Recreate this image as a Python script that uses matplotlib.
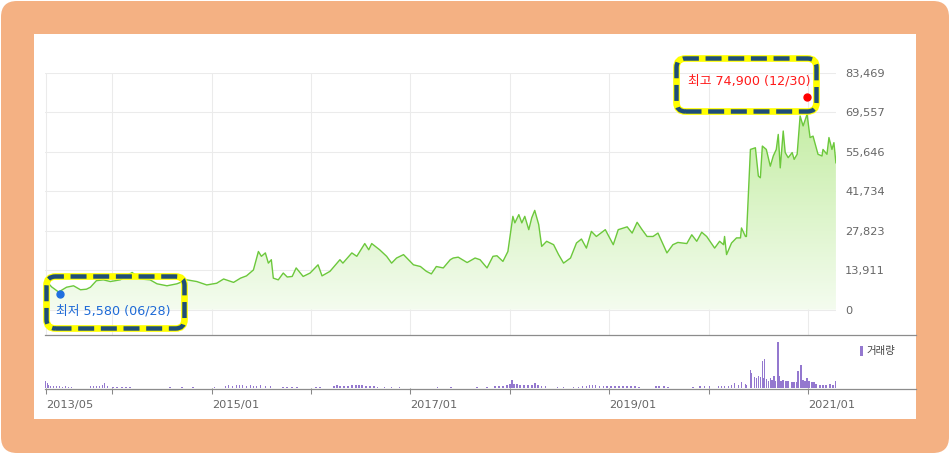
import matplotlib
matplotlib.use("Agg")
import matplotlib.pyplot as plt
import numpy as np
from matplotlib.patches import FancyBboxPatch, Rectangle
from matplotlib.lines import Line2D
from matplotlib.transforms import IdentityTransform
from matplotlib.colors import to_rgb

# ---------------- data ----------------
price_years = [2013.34, 2013.39, 2013.46, 2013.54, 2013.61, 2013.68, 2013.74, 2013.78, 2013.84, 2013.91,
               2013.98, 2014.08, 2014.20, 2014.28, 2014.38, 2014.45, 2014.55, 2014.65, 2014.75, 2014.85,
               2014.95, 2015.05, 2015.12, 2015.22, 2015.29, 2015.35, 2015.42, 2015.47, 2015.50, 2015.54,
               2015.57, 2015.60, 2015.62, 2015.67, 2015.72, 2015.76, 2015.81, 2015.85, 2015.92, 2015.99,
               2016.07, 2016.11, 2016.19, 2016.29, 2016.32, 2016.41, 2016.46, 2016.54, 2016.58, 2016.61,
               2016.69, 2016.76, 2016.81, 2016.86, 2016.93, 2016.98, 2017.03, 2017.10, 2017.16, 2017.21,
               2017.26, 2017.33, 2017.40, 2017.43, 2017.48, 2017.57, 2017.65, 2017.70, 2017.77, 2017.83,
               2017.87, 2017.93, 2017.98, 2018.03, 2018.05, 2018.09, 2018.12, 2018.15, 2018.19, 2018.22,
               2018.25, 2018.29, 2018.32, 2018.37, 2018.44, 2018.49, 2018.54, 2018.61, 2018.67, 2018.72,
               2018.77, 2018.82, 2018.87, 2018.96, 2019.04, 2019.09, 2019.18, 2019.23, 2019.28, 2019.33,
               2019.38, 2019.44, 2019.49, 2019.58, 2019.64, 2019.69, 2019.78, 2019.83, 2019.88, 2019.93,
               2019.98, 2020.06, 2020.11, 2020.15, 2020.16, 2020.18, 2020.23, 2020.28, 2020.32, 2020.33,
               2020.37, 2020.38, 2020.42, 2020.47, 2020.50, 2020.52, 2020.54, 2020.58, 2020.62, 2020.65,
               2020.68, 2020.70, 2020.72, 2020.75, 2020.77, 2020.80, 2020.84, 2020.86, 2020.89, 2020.92,
               2020.95, 2020.99, 2021.02, 2021.05, 2021.10, 2021.14, 2021.15, 2021.19, 2021.21, 2021.24,
               2021.26, 2021.28]
prices = [9900, 8000, 6200, 7900, 8400, 7000, 7200, 7900, 10200, 10500,
          9900, 10500, 13100, 10800, 10500, 9100, 8400, 9100, 10500, 9900,
          8700, 9300, 10800, 9600, 11100, 11900, 14000, 20500, 18800, 20000,
          16400, 17600, 11100, 10500, 12900, 11500, 11700, 14700, 11700, 12900,
          15800, 11900, 13500, 17600, 16400, 20000, 18800, 23300, 21100, 23300,
          21100, 18800, 16400, 18200, 19400, 17600, 15800, 15200, 13500, 12600,
          15200, 14700, 17600, 18200, 18500, 16600, 18200, 17600, 14700, 18800,
          19000, 17000, 20500, 32900, 30600, 33500, 30600, 32900, 28200, 32400,
          35000, 30000, 22300, 24100, 22900, 19400, 16400, 18200, 23500, 24900,
          21700, 27600, 25800, 28200, 22900, 28200, 29200, 27000, 30800, 28200,
          25800, 25800, 27000, 20000, 22900, 23700, 23300, 26400, 24100, 27300,
          25800, 21700, 24100, 22900, 25800, 19400, 23500, 25300, 25300, 28800,
          25800, 25800, 56500, 57100, 47100, 46500, 57700, 56500, 50600, 54200,
          56500, 61800, 50000, 63000, 55400, 53600, 55400, 53000, 54800, 68300,
          64800, 68900, 60700, 61200, 54800, 54200, 56500, 54800, 60700, 56500,
          58900, 51800]

vol_years = [2013.33, 2013.35, 2013.36, 2013.38, 2013.41, 2013.44, 2013.47, 2013.50, 2013.53, 2013.56,
             2013.59, 2013.78, 2013.81, 2013.84, 2013.87, 2013.90, 2013.92, 2013.95, 2014.01, 2014.05,
             2014.10, 2014.14, 2014.18, 2014.58, 2014.70, 2014.81, 2015.03, 2015.14, 2015.17, 2015.21,
             2015.25, 2015.28, 2015.31, 2015.35, 2015.39, 2015.42, 2015.45, 2015.49, 2015.54, 2015.59,
             2015.72, 2015.76, 2015.81, 2015.86, 2016.05, 2016.09, 2016.23, 2016.26, 2016.29, 2016.33,
             2016.37, 2016.41, 2016.45, 2016.48, 2016.51, 2016.55, 2016.59, 2016.63, 2016.67, 2016.74,
             2016.81, 2016.89, 2017.27, 2017.41, 2017.67, 2017.77, 2017.85, 2017.89, 2017.93, 2017.97,
             2018.00, 2018.02, 2018.04, 2018.07, 2018.10, 2018.14, 2018.18, 2018.22, 2018.25, 2018.28,
             2018.32, 2018.36, 2018.48, 2018.54, 2018.64, 2018.69, 2018.73, 2018.77, 2018.80, 2018.83,
             2018.86, 2018.90, 2018.94, 2018.98, 2019.02, 2019.06, 2019.10, 2019.14, 2019.18, 2019.22,
             2019.26, 2019.30, 2019.47, 2019.50, 2019.55, 2019.59, 2019.84, 2019.91, 2019.96, 2020.01,
             2020.10, 2020.13, 2020.16, 2020.20, 2020.23, 2020.26, 2020.30, 2020.33, 2020.37, 2020.38,
             2020.42, 2020.43, 2020.46, 2020.48, 2020.50, 2020.52, 2020.54, 2020.55, 2020.56, 2020.58,
             2020.60, 2020.62, 2020.64, 2020.66, 2020.67, 2020.70, 2020.71, 2020.73, 2020.75, 2020.78,
             2020.80, 2020.84, 2020.86, 2020.89, 2020.90, 2020.93, 2020.95, 2020.97, 2020.99, 2021.01,
             2021.04, 2021.06, 2021.08, 2021.12, 2021.15, 2021.18, 2021.22, 2021.25, 2021.28]
volumes = [280, 200, 140, 100, 80, 80, 80, 60, 80, 60,
           60, 80, 80, 100, 100, 120, 200, 80, 60, 60,
           60, 60, 60, 40, 60, 40, 60, 100, 120, 100,
           120, 140, 120, 100, 120, 100, 80, 120, 100, 80,
           60, 60, 60, 60, 60, 60, 80, 120, 100, 100,
           100, 120, 140, 140, 120, 100, 80, 80, 60, 60,
           60, 60, 40, 60, 60, 60, 80, 80, 100, 120,
           160, 308, 180, 160, 140, 120, 120, 140, 200, 120,
           100, 80, 40, 40, 60, 60, 80, 100, 120, 140,
           120, 100, 80, 80, 80, 80, 80, 100, 80, 80,
           100, 60, 80, 80, 80, 60, 60, 68, 68, 68,
           92, 92, 92, 92, 108, 200, 132, 228, 172, 140,
           708, 600, 440, 400, 468, 440, 1068, 400, 1160, 360,
           292, 400, 332, 468, 268, 1828, 468, 268, 332, 268,
           268, 228, 228, 228, 668, 932, 332, 292, 400, 268,
           228, 228, 172, 132, 120, 132, 172, 132, 268]

x_ticks = [2013 + 4 / 12, 2014, 2015, 2016, 2017, 2018, 2019, 2020, 2021]
x_labels = ["2013/05", "", "2015/01", "", "2017/01", "", "2019/01", "", "2021/01"]
y_ticks = [0, 13911, 27823, 41734, 55646, 69557, 83469]
y_labels = ["0", "13,911", "27,823", "41,734", "55,646", "69,557", "83,469"]

high_point = (2020.99, 74900)
low_point = (2013.47, 5580)
high_text = "최고 74,900 (12/30)"
low_text = "최저 5,580 (06/28)"
legend_text = "거래량"

# ---------------- figure ----------------
W, H = 950, 454
fig = plt.figure(figsize=(W / 100, H / 100), dpi=100)
fig.patch.set_facecolor("white")
FAM = ["DejaVu Sans", "Noto Sans CJK KR"]
ID = IdentityTransform()


def rbox(x0, y0, x1, y1, r, **kw):
    return FancyBboxPatch((x0, H - y1), x1 - x0, y1 - y0,
                          boxstyle=f"round,pad=0,rounding_size={r}",
                          transform=ID, **kw)


def hline(x0, x1, y, **kw):
    return Line2D([x0, x1], [H - y, H - y], transform=ID, **kw)


# orange frame & white panel
fig.add_artist(rbox(1, 1, 949, 453, 16, facecolor="#f4b183", edgecolor="none", zorder=-3))
fig.add_artist(Rectangle((34, H - 419), 882, 385, transform=ID,
                         facecolor="white", edgecolor="none", zorder=-2))

XMIN, XMAX = 2013.323, 2021.281

# main price axes
ax = fig.add_axes([45 / W, (H - 335) / H, 791 / W, 262 / H])
ax.set_facecolor("none")
for s in ax.spines.values():
    s.set_visible(False)

# gradient fill under line
top_c = np.array(to_rgb("#bbea95"))
bot_c = np.array(to_rgb("#f4fcef"))
t = np.linspace(0, 1, 256).reshape(-1, 1, 1)
grad = bot_c * (1 - t) + top_c * t
grad = np.repeat(grad, 2, axis=1)
im = ax.imshow(grad, extent=[XMIN, XMAX, 0, 83469], origin="lower", aspect="auto", zorder=1,
               interpolation="bilinear")
poly = ax.fill_between(price_years, prices, 0, facecolor="none", edgecolor="none")
im.set_clip_path(poly.get_paths()[0], transform=ax.transData)

ax.plot(price_years, prices, color="#6cc83c", lw=1.0, zorder=3, solid_joinstyle="round")

ax.set_xlim(XMIN, XMAX)
ax.set_ylim(-8960, 83469)
ax.set_xticks(x_ticks)
ax.tick_params(axis="x", length=0, labelbottom=False)
ax.yaxis.tick_right()
ax.set_yticks(y_ticks)
ax.set_yticklabels(y_labels)
ax.tick_params(axis="y", length=0, pad=6.5, labelcolor="#666666", labelsize=8.2)
for lab in ax.get_yticklabels():
    lab.set_family(FAM)
ax.grid(True, color="#ebebeb", lw=0.75, zorder=0)
ax.set_axisbelow(True)

ax.plot([high_point[0]], [high_point[1]], "o", color="#ff0000", ms=5, zorder=6, clip_on=False)
ax.plot([low_point[0]], [low_point[1]], "o", color="#1f6fe0", ms=5, zorder=6, clip_on=False)

# volume axes
axv = fig.add_axes([45 / W, (H - 388) / H, 791 / W, 53 / H])
axv.set_facecolor("none")
for s in axv.spines.values():
    s.set_visible(False)
axv.bar(vol_years, volumes, width=0.016, color="#9478cf", linewidth=0, zorder=2)
axv.set_xlim(XMIN, XMAX)
axv.set_ylim(0, 2120)
axv.set_yticks([])
axv.set_xticks(x_ticks)
axv.set_xticklabels(x_labels, ha="left")
axv.tick_params(axis="x", direction="out", length=4, width=0.75, color="#888888",
                pad=4.5, labelcolor="#666666", labelsize=8.2)
for lab in axv.get_xticklabels():
    lab.set_family(FAM)

# divider & baseline
fig.add_artist(hline(45, 916, 335, color="#8c8c8c", lw=0.9, zorder=4))
fig.add_artist(hline(45, 916, 388.5, color="#8c8c8c", lw=0.9, zorder=4))

# legend
fig.add_artist(Rectangle((860, H - 355.5), 3.3, 9.5, transform=ID,
                         facecolor="#9478cf", edgecolor="none", zorder=5))
fig.text(866 / W, 1 - 351 / H, legend_text, color="#444444", fontsize=7.5,
         va="center", ha="left", family=["Noto Sans CJK KR", "DejaVu Sans"])

# annotation boxes
for (x0, y0, x1, y1) in [(676.5, 58.5, 816.5, 111.5), (46.5, 276.5, 184.5, 328.5)]:
    fig.add_artist(rbox(x0, y0, x1, y1, 9, facecolor="none", edgecolor="#ffff00",
                        lw=4.8, zorder=7))
    fig.add_artist(rbox(x0, y0, x1, y1, 9, facecolor="none", edgecolor="#1f4e79",
                        lw=3.2, linestyle=(0, (3.6, 1.5)), zorder=8))

fig.text(688 / W, 1 - 80.7 / H, high_text, color="#ff1a1a", fontsize=9.2,
         va="center", ha="left", family=FAM, zorder=9)
fig.text(56 / W, 1 - 311 / H, low_text, color="#1e6ad6", fontsize=9.2,
         va="center", ha="left", family=FAM, zorder=9)

fig.savefig("out.png", dpi=100, facecolor="white")
